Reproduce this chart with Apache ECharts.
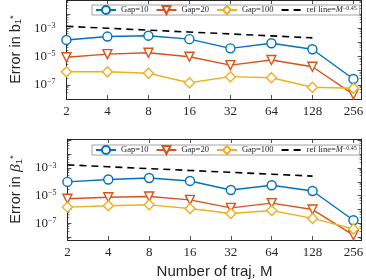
<!DOCTYPE html>
<html><head><meta charset="utf-8">
<script src="https://cdn.jsdelivr.net/npm/echarts@6/dist/echarts.min.js"></script>
<style>html,body{margin:0;padding:0;background:#fff}#c{width:366px;height:280px}</style>
</head><body><div id="c"></div>
<script>
// ---- data ----
const M = [2, 4, 8, 16, 32, 64, 128, 256];
const refM = [2, 4, 8, 16, 32, 64, 128];
const xTickLabels = ['2', '4', '8', '16', '32', '64', '128', '256'];
const yTickExps = [-3, -5, -7];
const seriesNames = ['Gap=10', 'Gap=20', 'Gap=100', 'ref line'];
// top panel: error in b1*
const b_gap10  = [1.5e-4, 2.6e-4, 3.0e-4, 1.7e-4, 3.8e-5, 8.7e-5, 3.3e-5, 2.6e-7];
const b_gap20  = [8.9e-6, 1.5e-5, 1.85e-5, 9.8e-6, 2.5e-6, 5.7e-6, 1.9e-6, 2.1e-8];
const b_gap100 = [8.5e-7, 8.5e-7, 6.6e-7, 1.4e-7, 3.8e-7, 3.2e-7, 6.8e-8, 5.8e-8];
const b_ref    = [1.38e-3, 1.01e-3, 7.4e-4, 5.4e-4, 4.0e-4, 2.9e-4, 2.1e-4];
// bottom panel: error in beta1*
const beta_gap10  = [1.0e-4, 1.5e-4, 1.9e-4, 1.17e-4, 2.6e-5, 5.7e-5, 2.2e-5, 1.7e-7];
const beta_gap20  = [6.0e-6, 7.8e-6, 8.7e-6, 5.0e-6, 1.33e-6, 2.9e-6, 1.0e-6, 1.4e-8];
const beta_gap100 = [1.5e-6, 1.9e-6, 2.2e-6, 1.2e-6, 5.2e-7, 8.5e-7, 2.3e-7, 4.0e-8];
const beta_ref    = [1.70e-3, 1.24e-3, 9.1e-4, 6.7e-4, 4.9e-4, 3.6e-4, 2.6e-4];

// ---- styling ----
const AX = '#262626';
const C10 = '#0072BD', C20 = '#D95319', C100 = '#EDB120';
const SERIF = 'Liberation Serif', SANS = 'Liberation Sans';

function xFmt(v) {
  const k = Math.log2(v), r = Math.round(k);
  if (Math.abs(k - r) > 1e-6) return '';
  const i = M.indexOf(Math.pow(2, r));
  return i >= 0 ? xTickLabels[i] : '';
}
function yFmt(v) {
  const k = Math.log10(v), r = Math.round(k);
  if (Math.abs(k - r) > 1e-6 || yTickExps.indexOf(r) < 0) return '';
  return '{b|10}{s|\u2212' + (-r) + '}';
}
function xAx(gi, pos, showLabel, name) {
  return {
    type: 'log', logBase: 2, gridIndex: gi, position: pos, min: 2, max: 294, splitNumber: 7,
    axisLine: { show: true, onZero: false, lineStyle: { color: AX, width: 1 } },
    axisTick: { show: true, inside: true, length: 4, lineStyle: { color: AX, width: 0.8 } },
    splitLine: { show: false },
    axisLabel: { show: showLabel, margin: 6, fontFamily: SERIF, fontSize: 13, color: AX, formatter: xFmt },
    name: name || '', nameLocation: 'middle', nameGap: 24,
    nameTextStyle: { fontFamily: SANS, fontSize: 15, color: AX }
  };
}
function yAx(gi, pos, showLabel, lo, hi, nameRich) {
  return {
    type: 'log', logBase: 10, gridIndex: gi, position: pos, min: lo, max: hi, splitNumber: 7,
    axisLine: { show: true, onZero: false, lineStyle: { color: AX, width: 1 } },
    axisTick: { show: true, inside: true, length: 4, lineStyle: { color: AX, width: 0.8 } },
    minorTick: { show: true, splitNumber: 5, length: 2, lineStyle: { color: AX, width: 0.6 } },
    splitLine: { show: false },
    axisLabel: {
      show: showLabel, margin: 11, formatter: yFmt,
      rich: {
        b: { fontFamily: SERIF, fontSize: 13, color: AX },
        s: { fontFamily: SERIF, fontSize: 8, color: AX, verticalAlign: 'top' }
      }
    },
    name: nameRich || '', nameLocation: 'middle', nameRotate: 90, nameGap: 42,
    nameTextStyle: {
      rich: {
        n: { fontFamily: SANS, fontSize: 14.5, color: AX },
        g: { fontFamily: SERIF, fontStyle: 'italic', fontSize: 15.5, color: AX },
        sub: { fontFamily: SANS, fontSize: 9.5, color: AX, verticalAlign: 'bottom' },
        sup: { fontFamily: SANS, fontSize: 9.5, color: AX, verticalAlign: 'top' }
      }
    }
  };
}
function mk(name, ys, xs, ai, color, symbol, rot, size) {
  return {
    type: 'line', name: name, xAxisIndex: ai, yAxisIndex: ai,
    data: xs.map((m, i) => [m, ys[i]]),
    symbol: symbol, symbolSize: size, symbolRotate: rot, showAllSymbol: true,
    lineStyle: { color: color, width: 1.4 },
    itemStyle: { color: '#fff', borderColor: color, borderWidth: 1.4 },
    animation: false
  };
}
function refSeries(ys, ai) {
  return {
    type: 'line', name: seriesNames[3], xAxisIndex: ai, yAxisIndex: ai,
    data: refM.map((m, i) => [m, ys[i]]), symbol: 'none',
    lineStyle: { color: '#000', width: 1.6, type: [7, 5] },
    itemStyle: { color: 'rgba(0,0,0,0)', borderColor: 'rgba(0,0,0,0)' }, animation: false
  };
}
function legendFmt(name) {
  if (name === seriesNames[3]) return '{t|ref line=}{m|M}{s|\u22120.45}';
  return '{t|' + name + '}';
}
function legend(top) {
  return {
    left: 92, top: top, orient: 'horizontal',
    data: [
      { name: seriesNames[0] }, { name: seriesNames[1] }, { name: seriesNames[2] },
      { name: seriesNames[3], itemStyle: { color: 'rgba(0,0,0,0)', borderColor: 'rgba(0,0,0,0)', opacity: 0 } }
    ],
    itemWidth: 20, itemHeight: 10, itemGap: 7, padding: [0, 3, 0, 3],
    borderColor: '#8c8c8c', borderWidth: 0.8, backgroundColor: '#fff',
    formatter: legendFmt, selectedMode: false,
    textStyle: {
      color: AX,
      rich: {
        t: { fontFamily: SERIF, fontSize: 8.5, color: AX },
        m: { fontFamily: SERIF, fontStyle: 'italic', fontSize: 8.5, color: AX },
        s: { fontFamily: SERIF, fontSize: 6, color: AX, verticalAlign: 'top' }
      }
    }
  };
}

const chart = echarts.init(document.getElementById('c'), null, { renderer: 'canvas' });
chart.setOption({
  animation: false,
  backgroundColor: '#fff',
  grid: [
    { left: 61, right: 3, top: 0, height: 99 },
    { left: 61, right: 3, top: 139, height: 104 }
  ],
  xAxis: [
    xAx(0, 'bottom', true), xAx(0, 'top', false),
    xAx(1, 'bottom', true, 'Number of traj, M'), xAx(1, 'top', false)
  ],
  yAxis: [
    yAx(0, 'left', true, 1e-8, 1e-1, '{n|Error in b}{sub|1}{sup|*}'),
    yAx(0, 'right', false, 1e-8, 1e-1),
    yAx(1, 'left', true, Math.pow(10, -8.2), Math.pow(10, -0.9), '{n|Error in }{g|\u03B2}{sub|1}{sup|*}'),
    yAx(1, 'right', false, Math.pow(10, -8.2), Math.pow(10, -0.9))
  ],
  legend: [legend(5), legend(145)],
  series: [
    mk(seriesNames[0], b_gap10, M, 0, C10, 'circle', 0, 9),
    mk(seriesNames[1], b_gap20, M, 0, C20, 'triangle', 180, 9),
    mk(seriesNames[2], b_gap100, M, 0, C100, 'diamond', 0, 10),
    refSeries(b_ref, 0),
    mk(seriesNames[0], beta_gap10, M, 2, C10, 'circle', 0, 9),
    mk(seriesNames[1], beta_gap20, M, 2, C20, 'triangle', 180, 9),
    mk(seriesNames[2], beta_gap100, M, 2, C100, 'diamond', 0, 10),
    refSeries(beta_ref, 2)
  ]
});
</script>
</body></html>
